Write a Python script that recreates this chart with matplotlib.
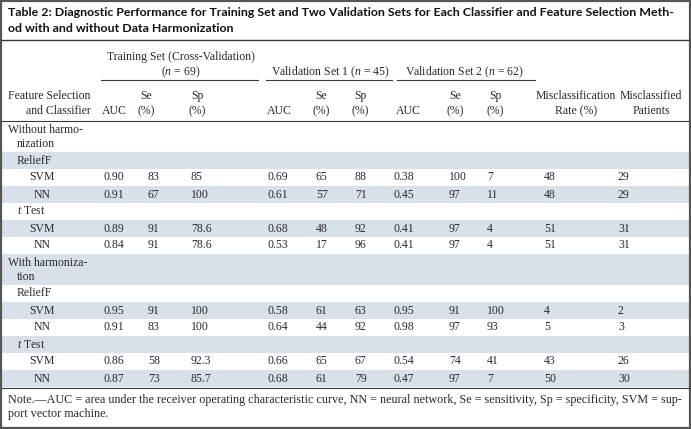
import matplotlib
matplotlib.use("Agg")
import matplotlib.pyplot as plt
from matplotlib.patches import Rectangle

plt.rcParams['mathtext.fontset'] = 'custom'
plt.rcParams['mathtext.rm'] = 'Liberation Serif'
plt.rcParams['mathtext.it'] = 'Liberation Serif:italic'

# ---- table data ----
groups = ["Without harmonization", "With harmonization"]
methods = ["ReliefF", "t Test"]
classifiers = ["SVM", "NN"]

auc_train = [0.90, 0.91, 0.89, 0.84, 0.95, 0.91, 0.86, 0.87]
se_train = [83, 67, 91, 91, 91, 83, 58, 73]
sp_train = [85, 100, 78.6, 78.6, 100, 100, 92.3, 85.7]
auc_v1 = [0.69, 0.61, 0.68, 0.53, 0.58, 0.64, 0.66, 0.68]
se_v1 = [65, 57, 48, 17, 61, 44, 65, 61]
sp_v1 = [88, 71, 92, 96, 63, 92, 67, 79]
auc_v2 = [0.38, 0.45, 0.41, 0.41, 0.95, 0.98, 0.54, 0.47]
se_v2 = [100, 97, 97, 97, 91, 97, 74, 97]
sp_v2 = [7, 11, 4, 4, 100, 93, 41, 7]
mis_rate = [48, 48, 51, 51, 4, 5, 43, 50]
mis_pat = [29, 29, 31, 31, 2, 3, 26, 30]

title_lines = ["Table 2: Diagnostic Performance for Training Set and Two Validation Sets for Each Classifier and Feature Selection Meth-",
               "od with and without Data Harmonization"]
note_lines = ["Note.\u2014AUC = area under the receiver operating characteristic curve, NN = neural network, Se = sensitivity, Sp = specificity, SVM = sup-",
              "port vector machine."]

# ---- layout (pixel units) ----
W, H = 691, 429
serif = "Liberation Serif"
fs = 8.5
band = "#d8e0ea"
rule = "#3a3a3a"

fig = plt.figure(figsize=(W / 100, H / 100), dpi=100)
ax = fig.add_axes([0, 0, 1, 1])
ax.set_xlim(0, W)
ax.set_ylim(H, 0)
ax.axis("off")

def txt(x, y, s, ha="left", size=fs, **kw):
    ax.text(x, y, s, ha=ha, va="center", fontsize=size, family=serif, color="#2a2a2a", **kw)

# title
for i, line in enumerate(title_lines):
    ax.text(8, 12 + 16 * i, line, ha="left", va="center", fontsize=8.95,
            family="Lato", fontweight="bold", color="#111111")
ax.plot([2, W - 2], [40, 40], color=rule, lw=1.0)

# column headers
cols = [  # (data x, header x, Se/Sp label)
    (104, 102, ""),
    (148, 138, "Se"),
    (191, 189, "Sp"),
    (268, 267, ""),
    (316, 313, "Se"),
    (355, 352, "Sp"),
    (394, 396, ""),
    (449, 447, "Se"),
    (487, 487, "Sp"),
]
for dx, hx, lab in cols:
    if lab:
        txt(hx + 8, 96, lab, ha="center")
        txt(hx + 8, 111, "(%)", ha="center")
    else:
        txt(hx, 111, "AUC")
txt(576, 96, "Misclassification", ha="center")
txt(576, 111, "Rate (%)", ha="center")
txt(651, 96, "Misclassified", ha="center")
txt(651, 111, "Patients", ha="center")
txt(91, 96, "Feature Selection", ha="right")
txt(91, 111, "and Classifier", ha="right")

# group headers
txt(181, 57, "Training Set (Cross-Validation)", ha="center")
txt(181, 72, r"($\it{n}$ = 69)", ha="center")
txt(330, 72, r"Validation Set 1 ($\it{n}$ = 45)", ha="center")
txt(464, 72, r"Validation Set 2 ($\it{n}$ = 62)", ha="center")
for x0, x1 in [(101, 258), (266, 392), (397, 535)]:
    ax.plot([x0, x1], [80, 80], color=rule, lw=0.8)
ax.plot([2, W - 2], [121, 121], color=rule, lw=0.8)

# body rows
h, dbl = 17, 31
y = 121
row = 0
k = 0
value_cols = [auc_train, se_train, sp_train, auc_v1, se_v1, sp_v1, auc_v2, se_v2, sp_v2]
splits = {"Without harmonization": ("Without harmo-", "nization"),
          "With harmonization": ("With harmoniza-", "tion")}
for g in groups:
    if row % 2 == 1:
        ax.add_patch(Rectangle((2, y), W - 4, dbl, color=band, lw=0))
    l1, l2 = splits[g]
    txt(8, y + 9, l1)
    txt(17, y + 23, l2)
    y += dbl
    row += 1
    for m in methods:
        if row % 2 == 1:
            ax.add_patch(Rectangle((2, y), W - 4, h, color=band, lw=0))
        label = r"$\it{t}$ Test" if m == "t Test" else m
        txt(17, y + h / 2, label)
        y += h
        row += 1
        for c in classifiers:
            if row % 2 == 1:
                ax.add_patch(Rectangle((2, y), W - 4, h, color=band, lw=0))
            txt(42, y + h / 2, c, ha="center")
            for (dx, hx, lab), vals in zip(cols, value_cols):
                v = vals[k]
                s = "%.2f" % v if isinstance(v, float) and v < 1 else "%g" % v
                txt(dx, y + h / 2, s)
            txt(544, y + h / 2, str(mis_rate[k]))
            txt(618, y + h / 2, str(mis_pat[k]))
            y += h
            row += 1
            k += 1
ax.plot([2, W - 2], [y + 1, y + 1], color=rule, lw=0.8)

# note
for i, line in enumerate(note_lines):
    txt(8, 400 + 14 * i, line, size=8.7)

# outer frame
ax.add_patch(Rectangle((1, 1), W - 2, H - 2, fill=False, edgecolor="#555555", lw=1.6))

fig.savefig("out.png", dpi=100)
